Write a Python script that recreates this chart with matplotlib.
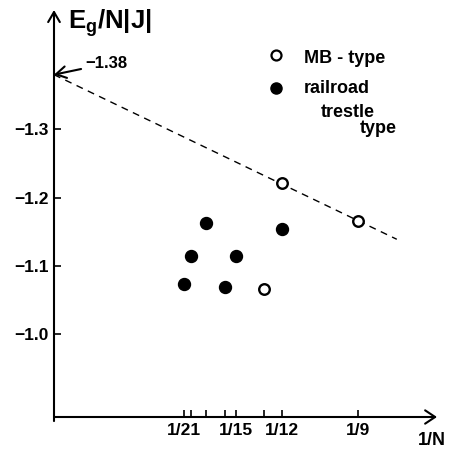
"""Ground-state energy per site versus 1/N for MB-type and railroad trestle clusters."""

import matplotlib
matplotlib.use('Agg')
import matplotlib.pyplot as plt

plt.rcParams['font.family'] = ['Liberation Sans', 'DejaVu Sans']
plt.rcParams['font.weight'] = 'bold'
plt.rcParams['mathtext.fontset'] = 'custom'
plt.rcParams['mathtext.rm'] = 'Liberation Sans:bold'

#-----------------------------------------------------------------------------
# Data
#-----------------------------------------------------------------------------

# MB-type clusters (open circles)
n_mb = [13, 12, 9]
e_mb = [-1.066, -1.222, -1.166]

# railroad trestle type clusters (filled circles)
n_rt = [21, 20, 18, 16, 15, 12]
e_rt = [-1.073, -1.115, -1.163, -1.069, -1.115, -1.154]

# dashed extrapolation line
line_x = [0.0, 0.1253]
line_y = [-1.38, -1.139]
e_limit = -1.38

# axis ticks
xtick_n = [21, 20, 18, 16, 15, 13, 12, 9]
xtick_labels = ['1/21', '', '', '', '1/15', '', '1/12', '1/9']
ytick_vals = [-1.3, -1.2, -1.1, -1.0]
ytick_labels = ['\u22121.3', '\u22121.2', '\u22121.1', '\u22121.0']

#-----------------------------------------------------------------------------
# Plot
#-----------------------------------------------------------------------------

fig = plt.figure(figsize=(4.52, 4.54), dpi=100)
ax = fig.add_axes([54/452, 37/454, 383/452, 407/454])

x_mb = [1.0/n for n in n_mb]
x_rt = [1.0/n for n in n_rt]

ax.plot(line_x, line_y, color='k', lw=1.0, ls=(0, (5, 4)))
ax.plot(x_rt, e_rt, 'o', color='k', ms=8.6, zorder=3)
ax.plot(x_mb, e_mb, 'o', mfc='white', mec='k', mew=1.7, ms=7.6, zorder=3)

ax.set_xlim(0, 0.14)
ax.set_ylim(-0.8788, -1.4747)

for s in ax.spines.values():
    s.set_visible(False)

ax.set_xticks([1.0/n for n in xtick_n])
ax.set_xticklabels(xtick_labels)
ax.set_yticks(ytick_vals)
ax.set_yticklabels(ytick_labels)
ax.tick_params(direction='in', length=5, width=1.2, labelsize=12.5, pad=4,
               color='k')

# axes drawn as arrows
ax.annotate('', xy=(1, 0), xytext=(0, 0), xycoords='axes fraction',
            arrowprops=dict(arrowstyle='->,head_length=0.6,head_width=0.4',
                            lw=1.5, color='k', shrinkA=0, shrinkB=0,
                            mutation_scale=12))
ax.annotate('', xy=(0, 1), xytext=(0, -0.01), xycoords='axes fraction',
            arrowprops=dict(arrowstyle='->,head_length=0.6,head_width=0.35',
                            lw=1.5, color='k', shrinkA=0, shrinkB=0,
                            mutation_scale=12))

# intercept annotation
ax.annotate('\u22121.38', xy=(0, e_limit), xytext=(0.0815, 0.868),
            textcoords='axes fraction', fontsize=12, va='center',
            arrowprops=dict(arrowstyle='->,head_length=0.6,head_width=0.35',
                            lw=1.5, color='k', shrinkA=1, shrinkB=0,
                            mutation_scale=12))

ax.text(0.037, 0.955, r'$\mathregular{E_g}$/N|J|', transform=ax.transAxes,
        fontsize=18.5, va='baseline', ha='left')
ax.text(0.986, -0.057, '1/N', transform=ax.transAxes, fontsize=13,
        ha='center', va='center')

# legend, drawn by hand because of the staggered label
ax.plot([0.580], [0.889], 'o', mfc='white', mec='k', mew=1.6, ms=7.2,
        transform=ax.transAxes, clip_on=False)
ax.plot([0.580], [0.808], 'o', color='k', ms=8.0,
        transform=ax.transAxes, clip_on=False)
ax.text(0.653, 0.869, 'MB - type', transform=ax.transAxes, fontsize=13,
        va='baseline')
ax.text(0.653, 0.797, 'railroad', transform=ax.transAxes, fontsize=13,
        va='baseline')
ax.text(0.697, 0.738, 'trestle', transform=ax.transAxes, fontsize=13,
        va='baseline')
ax.text(0.799, 0.697, 'type', transform=ax.transAxes, fontsize=13,
        va='baseline')

fig.savefig('out.png', dpi=100)
